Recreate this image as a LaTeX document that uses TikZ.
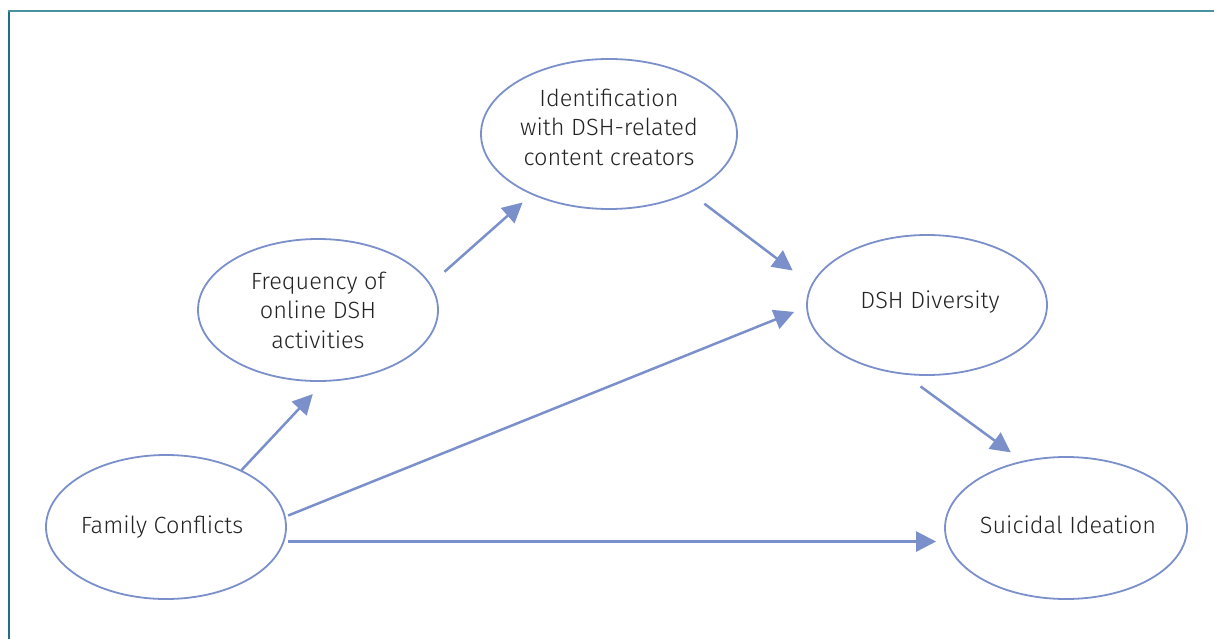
\documentclass[tikz,border=0pt]{standalone}
\usepackage{fontspec}
\setmainfont{Fira Sans}[UprightFont=* Light]
\usetikzlibrary{shapes.geometric,arrows.meta}
\definecolor{edgeblue}{RGB}{123,143,203}
\definecolor{frametop}{RGB}{74,146,163}
\definecolor{frameleft}{RGB}{31,110,138}
\definecolor{labelgray}{RGB}{35,35,35}
\begin{document}
\begin{tikzpicture}[x=1pt,y=-1pt,
  construct/.style={ellipse, draw=edgeblue, line width=1.8pt, inner sep=0pt},
  caption/.style={text=labelgray, align=center, inner sep=0pt,
    font=\fontsize{23.5}{29.5}\selectfont},
  link/.style={draw=edgeblue, line width=2.5pt,
    -{Triangle[length=20pt,width=20pt]}}]
\useasboundingbox (0,0) rectangle (1214,639);

% frame along the top and left edges
\draw[frameleft, line width=2pt] (9,640) -- (9,11);
\draw[frametop, line width=2pt] (8,11) -- (1215,11);

% constructs
\node[construct, minimum width=240pt, minimum height=144pt] (fc) at (166,527) {};
\node[construct, minimum width=240pt, minimum height=142pt] (freq) at (318,310) {};
\node[construct, minimum width=256pt, minimum height=150pt] (ident) at (609,134) {};
\node[construct, minimum width=240pt, minimum height=140pt] (div) at (927,305) {};
\node[construct, minimum width=242pt, minimum height=142pt] (si) at (1066,528) {};

% their labels
\node[caption] (fc-text) at (162,527) {Family Conflicts};
\node[caption] (freq-text) at (318,310) {Frequency of\\online DSH\\activities};
\node[caption] (ident-text) at (609,127) {Identification\\with DSH-related\\content creators};
\node[caption] (div-text) at (930,302) {DSH Diversity};
\node[caption] (si-text) at (1068,525) {Suicidal Ideation};

% paths between constructs
\draw[link, shorten >=16.8pt] (fc.37.6) -- (freq.275.4);
\draw[link, shorten <=18.4pt, shorten >=11.8pt] (freq.13.7) -- (ident.218.4);
\draw[link, shorten <=17.8pt, shorten >=23.3pt] (ident.324.3) -- (div.170.8);
\draw[link, shorten <=2.7pt, shorten >=13pt] (fc.5.3) -- (div.181);
\draw[link, shorten <=3.3pt, shorten >=8pt] (fc.353.2) -- (fc.353.2 -| si.west);
\draw[link, shorten <=20pt, shorten >=14.4pt] (div.252) -- (si.123.4);
\end{tikzpicture}
\end{document}
